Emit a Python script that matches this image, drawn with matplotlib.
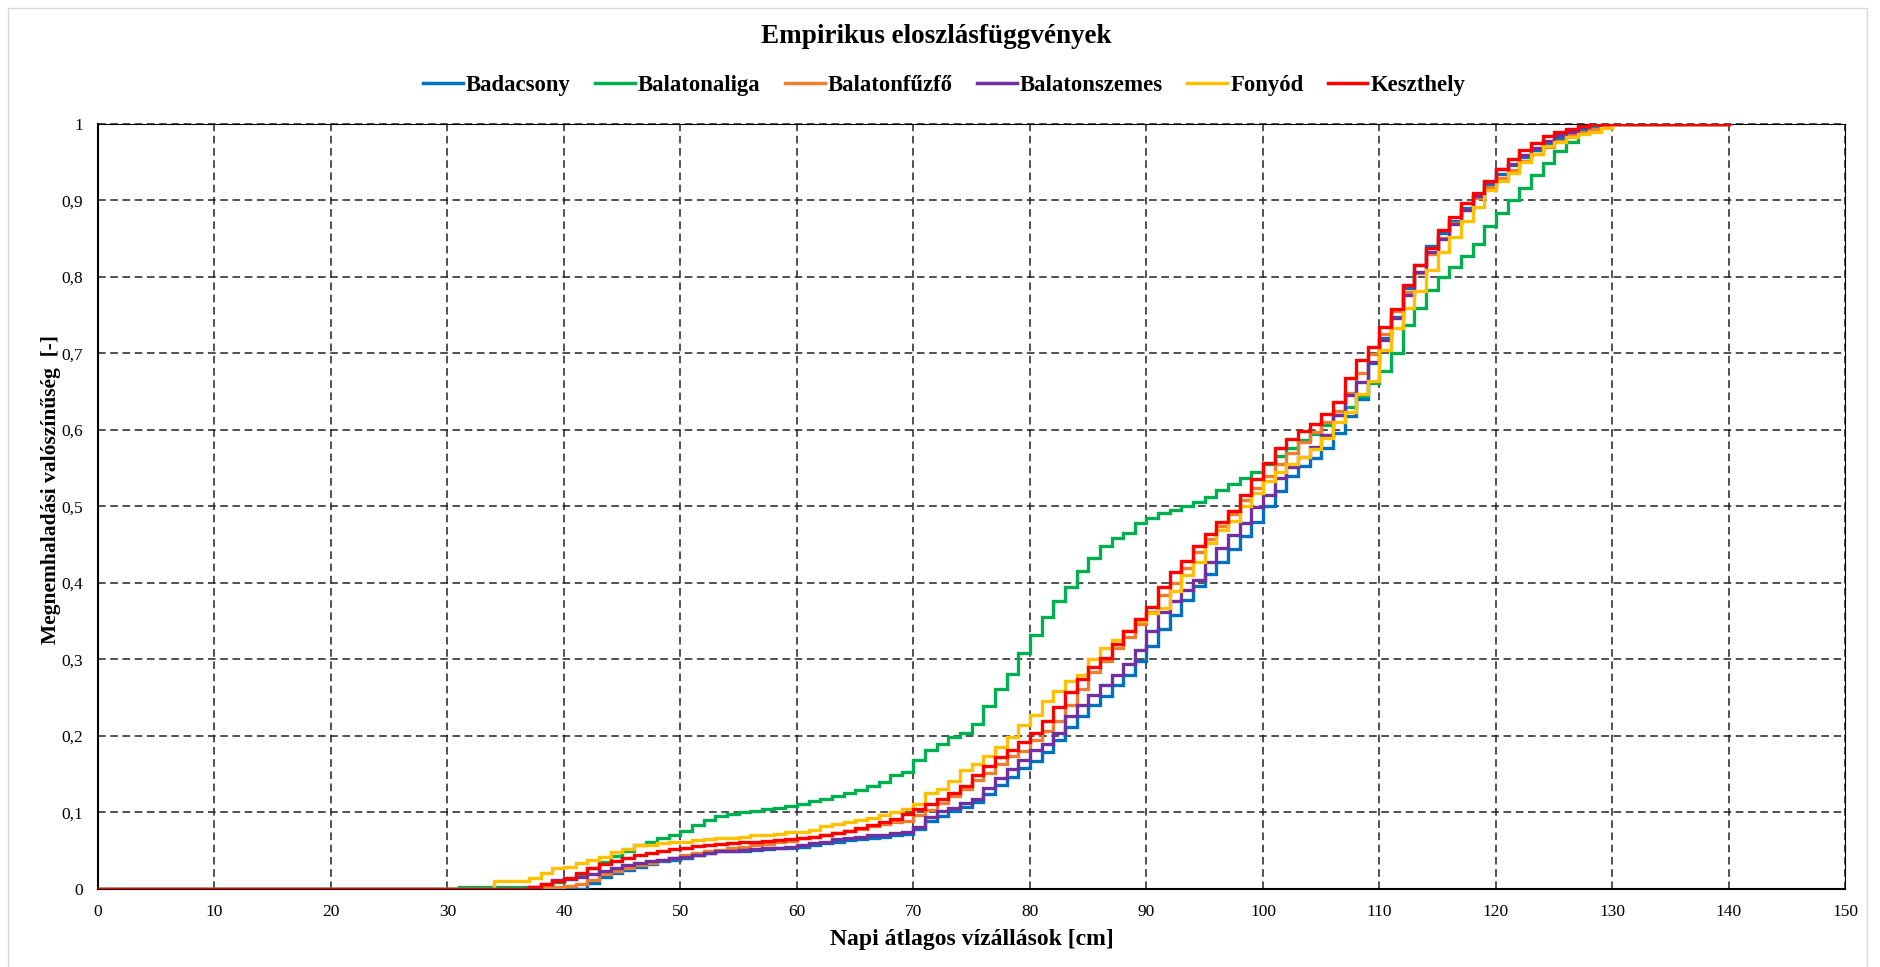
import matplotlib
matplotlib.use("Agg")
import matplotlib.pyplot as plt
from matplotlib.ticker import MultipleLocator, FuncFormatter
from matplotlib.patches import Rectangle

# ---------------- data ----------------
water_levels_cm = list(range(30, 131))   # integer water levels where the ECDF steps
level_start = 0
level_end = 140

badacsony = [
    0, 0, 0, 0, 0, 0, 0, 0, 0, 0,
    0, 0, 0.008, 0.016, 0.021, 0.025, 0.029, 0.032, 0.036, 0.038,
    0.041, 0.045, 0.047, 0.049, 0.050, 0.050, 0.051, 0.052, 0.053, 0.054,
    0.055, 0.057, 0.060, 0.062, 0.064, 0.065, 0.066, 0.068, 0.070, 0.072,
    0.079, 0.089, 0.096, 0.102, 0.107, 0.114, 0.124, 0.136, 0.147, 0.158,
    0.167, 0.179, 0.195, 0.212, 0.226, 0.240, 0.252, 0.266, 0.280, 0.298,
    0.318, 0.340, 0.358, 0.378, 0.396, 0.412, 0.428, 0.445, 0.461, 0.480,
    0.500, 0.520, 0.540, 0.553, 0.563, 0.577, 0.596, 0.618, 0.640, 0.688,
    0.720, 0.748, 0.786, 0.816, 0.840, 0.857, 0.873, 0.890, 0.905, 0.920,
    0.935, 0.946, 0.957, 0.966, 0.975, 0.982, 0.988, 0.993, 0.997, 1.000,
    1.000]

balatonaliga = [
    0, 0.002, 0.002, 0.002, 0.002, 0.002, 0.002, 0.002, 0.005, 0.009,
    0.013, 0.020, 0.028, 0.035, 0.043, 0.050, 0.057, 0.062, 0.066, 0.071,
    0.076, 0.083, 0.090, 0.095, 0.098, 0.100, 0.102, 0.104, 0.106, 0.108,
    0.111, 0.115, 0.118, 0.122, 0.126, 0.129, 0.134, 0.140, 0.149, 0.153,
    0.169, 0.181, 0.190, 0.198, 0.204, 0.216, 0.239, 0.261, 0.281, 0.309,
    0.332, 0.355, 0.376, 0.395, 0.416, 0.433, 0.448, 0.459, 0.465, 0.478,
    0.485, 0.491, 0.496, 0.500, 0.506, 0.513, 0.521, 0.530, 0.537, 0.545,
    0.556, 0.566, 0.577, 0.587, 0.595, 0.607, 0.620, 0.630, 0.645, 0.662,
    0.677, 0.700, 0.737, 0.759, 0.783, 0.800, 0.813, 0.827, 0.843, 0.867,
    0.884, 0.900, 0.916, 0.933, 0.949, 0.965, 0.977, 0.988, 0.995, 0.998,
    1.000]

balatonfuzfo = [
    0, 0, 0, 0, 0, 0, 0, 0, 0.002, 0.003,
    0.004, 0.006, 0.012, 0.019, 0.023, 0.027, 0.031, 0.034, 0.038, 0.041,
    0.045, 0.047, 0.049, 0.051, 0.053, 0.055, 0.057, 0.059, 0.061, 0.063,
    0.066, 0.068, 0.070, 0.073, 0.076, 0.079, 0.082, 0.085, 0.087, 0.089,
    0.097, 0.103, 0.113, 0.121, 0.131, 0.143, 0.151, 0.163, 0.174, 0.180,
    0.195, 0.206, 0.220, 0.240, 0.262, 0.283, 0.298, 0.315, 0.330, 0.347,
    0.362, 0.384, 0.400, 0.420, 0.440, 0.457, 0.474, 0.490, 0.508, 0.524,
    0.540, 0.555, 0.570, 0.584, 0.597, 0.610, 0.625, 0.648, 0.674, 0.699,
    0.726, 0.756, 0.780, 0.805, 0.830, 0.851, 0.870, 0.888, 0.903, 0.918,
    0.930, 0.940, 0.951, 0.961, 0.970, 0.978, 0.985, 0.990, 0.994, 0.997,
    1.000]

balatonszemes = [
    0, 0, 0, 0, 0, 0, 0, 0.002, 0.006, 0.012,
    0.013, 0.016, 0.019, 0.023, 0.028, 0.031, 0.034, 0.036, 0.038, 0.040,
    0.042, 0.045, 0.047, 0.049, 0.050, 0.051, 0.052, 0.053, 0.054, 0.055,
    0.057, 0.060, 0.062, 0.065, 0.067, 0.068, 0.070, 0.071, 0.073, 0.074,
    0.081, 0.094, 0.102, 0.106, 0.112, 0.118, 0.132, 0.145, 0.157, 0.169,
    0.181, 0.190, 0.204, 0.226, 0.240, 0.254, 0.267, 0.280, 0.294, 0.313,
    0.337, 0.362, 0.377, 0.391, 0.404, 0.428, 0.446, 0.463, 0.479, 0.499,
    0.515, 0.537, 0.551, 0.565, 0.578, 0.594, 0.620, 0.646, 0.663, 0.689,
    0.718, 0.747, 0.776, 0.807, 0.832, 0.849, 0.869, 0.887, 0.906, 0.924,
    0.941, 0.948, 0.959, 0.968, 0.978, 0.986, 0.990, 0.996, 0.998, 1.000,
    1.000]

fonyod = [
    0, 0, 0, 0, 0.011, 0.011, 0.011, 0.014, 0.021, 0.027,
    0.029, 0.034, 0.038, 0.042, 0.048, 0.052, 0.057, 0.058, 0.060, 0.061,
    0.062, 0.064, 0.065, 0.066, 0.067, 0.068, 0.070, 0.071, 0.072, 0.074,
    0.075, 0.077, 0.082, 0.085, 0.088, 0.090, 0.093, 0.097, 0.100, 0.104,
    0.111, 0.125, 0.131, 0.141, 0.155, 0.164, 0.174, 0.185, 0.198, 0.214,
    0.228, 0.246, 0.259, 0.272, 0.280, 0.300, 0.315, 0.326, 0.337, 0.350,
    0.361, 0.367, 0.390, 0.410, 0.428, 0.452, 0.469, 0.481, 0.501, 0.517,
    0.533, 0.545, 0.556, 0.565, 0.575, 0.590, 0.611, 0.623, 0.647, 0.664,
    0.705, 0.733, 0.759, 0.782, 0.809, 0.832, 0.852, 0.873, 0.892, 0.914,
    0.925, 0.936, 0.950, 0.961, 0.971, 0.977, 0.983, 0.987, 0.990, 0.995,
    1.000]

keszthely = [
    0, 0, 0, 0, 0, 0, 0, 0.002, 0.006, 0.011,
    0.014, 0.021, 0.027, 0.032, 0.036, 0.040, 0.044, 0.047, 0.050, 0.052,
    0.054, 0.056, 0.058, 0.059, 0.060, 0.061, 0.062, 0.063, 0.064, 0.065,
    0.067, 0.068, 0.070, 0.073, 0.076, 0.080, 0.083, 0.087, 0.091, 0.098,
    0.104, 0.111, 0.118, 0.126, 0.135, 0.149, 0.161, 0.172, 0.182, 0.192,
    0.204, 0.219, 0.238, 0.257, 0.275, 0.290, 0.302, 0.320, 0.337, 0.353,
    0.369, 0.395, 0.414, 0.429, 0.448, 0.464, 0.480, 0.494, 0.515, 0.536,
    0.557, 0.576, 0.588, 0.598, 0.608, 0.621, 0.637, 0.668, 0.691, 0.709,
    0.734, 0.758, 0.790, 0.815, 0.838, 0.862, 0.879, 0.897, 0.910, 0.926,
    0.941, 0.954, 0.966, 0.975, 0.984, 0.989, 0.993, 0.997, 1.000, 1.000,
    1.000]

series_names = ["Badacsony", "Balatonaliga", "Balatonfűzfő",
                "Balatonszemes", "Fonyód", "Keszthely"]
series_values = [badacsony, balatonaliga, balatonfuzfo,
                 balatonszemes, fonyod, keszthely]
series_colors = ["#0070C0", "#00B050", "#ED7D31", "#7030A0", "#FFC000", "#FF0000"]

title_text = "Empirikus eloszlásfüggvények"
x_label = "Napi átlagos vízállások [cm]"
y_label = "Megnemhaladási valószínűség  [-]"

# ---------------- figure ----------------
plt.rcParams["font.family"] = ["Liberation Serif", "DejaVu Serif"]

fig = plt.figure(figsize=(18.81, 9.67), dpi=100)
ax = fig.add_axes([0.0521, 0.0807, 0.9290, 0.7911])

for name, vals, col in zip(series_names, series_values, series_colors):
    xs = [level_start] + water_levels_cm + [level_end]
    ys = [0] + vals + [1]
    ax.step(xs, ys, where="post", color=col, linewidth=2.4, label=name,
            solid_joinstyle="miter", zorder=3)

ax.set_xlim(0, 150)
ax.set_ylim(0, 1)
ax.xaxis.set_major_locator(MultipleLocator(10))
ax.yaxis.set_major_locator(MultipleLocator(0.1))
ax.yaxis.set_major_formatter(FuncFormatter(lambda v, p: ("%g" % round(v, 2)).replace(".", ",")))
ax.grid(True, color="#222222", linestyle=(0, (5, 3)), linewidth=1.1)
ax.set_axisbelow(True)
for gl in ax.get_xgridlines() + ax.get_ygridlines():
    gl.set_clip_on(False)
for s in ["top", "right"]:
    ax.spines[s].set_color("black")
    ax.spines[s].set_linewidth(0.8)
for s in ["left", "bottom"]:
    ax.spines[s].set_color("black")
    ax.spines[s].set_linewidth(1.5)
ax.tick_params(axis="both", length=0, labelsize=12.5, pad=11)

ax.set_xlabel(x_label, fontsize=17, fontweight="bold", labelpad=6)
ax.set_ylabel(y_label, fontsize=15.5, fontweight="bold")
ax.yaxis.set_label_coords(-0.021, 0.522)

fig.text(0.498, 0.962, title_text, ha="center", va="center",
         fontsize=19.5, fontweight="bold")

leg = fig.legend(loc="center", bbox_to_anchor=(0.502, 0.912), ncol=6,
                 frameon=False, prop={"weight": "bold", "size": 16.4},
                 handlelength=1.75, handletextpad=0.15, columnspacing=1.05)
for h in leg.get_lines():
    h.set_linewidth(2.5)

fig.patches.append(Rectangle((8 / 1881, -0.01), 1867 / 1881 - 8 / 1881, 1.0 - 8 / 967 + 0.01,
                             transform=fig.transFigure, fill=False,
                             edgecolor="#d9d9d9", linewidth=1.0))

fig.savefig("out.png", dpi=100, facecolor="white")
